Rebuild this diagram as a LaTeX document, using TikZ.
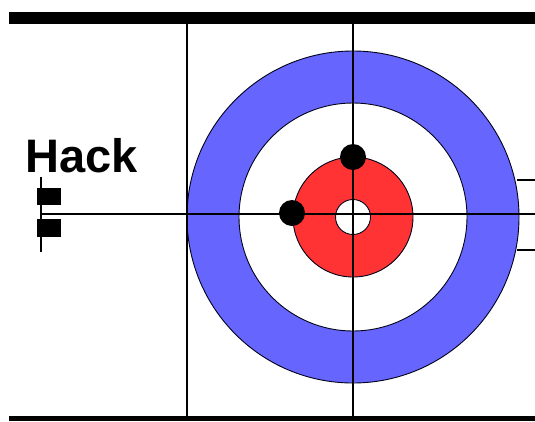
\documentclass[tikz,border=0pt]{standalone}
\usepackage{fontspec}
\setmainfont{Liberation Sans}
\usepackage{xcolor}
\definecolor{houseblue}{RGB}{102,102,255}
\definecolor{housered}{RGB}{255,51,51}

\begin{document}
\begin{tikzpicture}[
      x=1pt, y=-1pt,
      ring/.style={draw=black!90!blue, line width=0.9pt},
      tline/.style={draw=black, line width=1.3pt},
      bar/.style={fill=black},
      stone/.style={circle, fill=black, inner sep=0pt, minimum size=26pt},
      hackblock/.style={fill=black},
    ]
    \useasboundingbox (0,0) rectangle (535,421);
    % house rings, outer to inner
    \coordinate (tee) at (353,217);
    \filldraw[ring, fill=houseblue] (tee) circle (166);
    \filldraw[ring, fill=white] (tee) circle (114);
    \filldraw[ring, fill=housered] (tee) circle (60);
    \filldraw[ring, fill=white] (tee) circle (17.5);
    % side and back lines
    \fill[bar] (9,12) rectangle (535,24);
    \fill[bar] (9,416) rectangle (535,421);
    \draw[tline] (187,24) -- (187,416);
    \draw[tline] (353,24) -- (353,416);
    \draw[tline] (41,214) -- (535,214);
    \draw[tline] (517,180) -- (535,180);
    \draw[tline] (517,250) -- (535,250);
    % hack
    \draw[tline] (41,177) -- (41,252);
    \fill[hackblock] (37,188) rectangle (61,205);
    \fill[hackblock] (37,219) rectangle (61,237);
    \node[anchor=base west, inner sep=0pt, font=\bfseries\fontsize{47}{47}\selectfont] (hacklbl) at (25,172) {Hack};
    % stones
    \node[stone] (stoneA) at (353,157) {};
    \node[stone] (stoneB) at (292,213) {};
  \end{tikzpicture}
\end{document}
